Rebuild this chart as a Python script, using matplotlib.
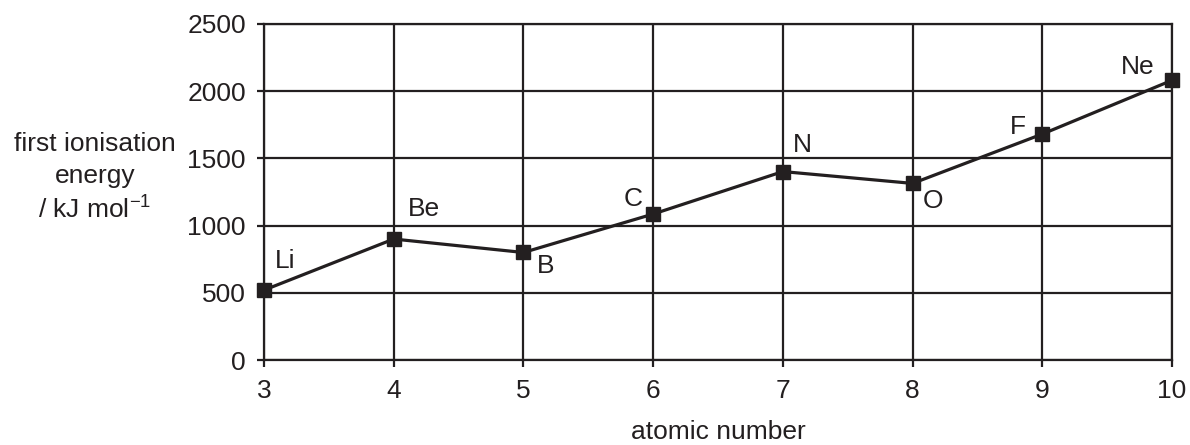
import matplotlib
matplotlib.use("Agg")
import matplotlib.pyplot as plt

plt.rcParams['font.family'] = ['Liberation Sans', 'DejaVu Sans']
plt.rcParams['mathtext.fontset'] = 'custom'
plt.rcParams['mathtext.rm'] = 'Liberation Sans'
plt.rcParams['mathtext.it'] = 'Liberation Sans'
plt.rcParams['mathtext.bf'] = 'Liberation Sans'

atomic_numbers = [3, 4, 5, 6, 7, 8, 9, 10]
energies = [520, 900, 800, 1086, 1402, 1314, 1681, 2081]
elements = ["Li", "Be", "B", "C", "N", "O", "F", "Ne"]
y_ticks = [0, 500, 1000, 1500, 2000, 2500]

# label offsets in pixels (dx, dy) and alignment
offsets = {
    "Li": (11, 29, 'left'),
    "Be": (14, 30, 'left'),
    "B": (13, -14, 'left'),
    "C": (-11, 15, 'right'),
    "N": (10, 27, 'left'),
    "O": (10, -18, 'left'),
    "F": (-16, 7, 'right'),
    "Ne": (-17, 13, 'right'),
}

ink = '#231f20'
fs = 19
px = 72 / 100.0

fig = plt.figure(figsize=(11.9, 4.45), dpi=100)
ax = fig.add_axes([264 / 1190, 1 - 360 / 445, (1172 - 264) / 1190, (360 - 24) / 445])

ax.plot(atomic_numbers, energies, color=ink, lw=2.3, marker='s', markersize=10,
        markerfacecolor=ink, markeredgecolor=ink, zorder=5, clip_on=False)

for x, y, el in zip(atomic_numbers, energies, elements):
    dx, dy, ha = offsets[el]
    ax.annotate(el, (x, y), xytext=(dx * px, dy * px), textcoords='offset points',
                ha=ha, va='center', fontsize=fs, color=ink)

ax.set_xlim(3, 10)
ax.set_ylim(0, 2500)
ax.set_xticks(atomic_numbers)
ax.set_yticks(y_ticks)
ax.grid(True, color=ink, lw=1.6)
ax.set_axisbelow(True)
for s in ax.spines.values():
    s.set_color(ink)
    s.set_linewidth(1.6)
ax.tick_params(direction='out', length=5, width=1.6, color=ink, labelsize=fs,
               labelcolor=ink)
ax.tick_params(axis='x', pad=9)
ax.tick_params(axis='y', pad=8)

ax.set_xlabel("atomic number", fontsize=fs, color=ink, labelpad=12)

fig.text(95 / 1190, 1 - 178 / 445, "first ionisation\nenergy\n/ kJ mol$^{\u2212 1}$",
         ha='center', va='center', multialignment='center', fontsize=fs,
         color=ink, linespacing=1.4)

fig.savefig("out.png", dpi=100)
